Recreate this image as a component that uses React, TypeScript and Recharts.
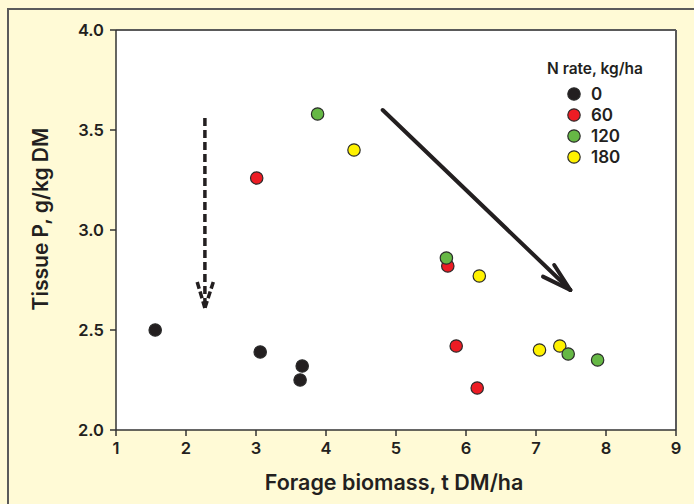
import React from "react";
import {
  ScatterChart,
  Scatter,
  XAxis,
  YAxis,
  CartesianGrid,
  ReferenceLine,
  Label,
} from "recharts";

// ---- data ----
const xTicks = [1, 2, 3, 4, 5, 6, 7, 8, 9];
const yTicks = [2.0, 2.5, 3.0, 3.5, 4.0];

const n0 = [
  { x: 1.56, y: 2.5 },
  { x: 3.06, y: 2.39 },
  { x: 3.66, y: 2.32 },
  { x: 3.63, y: 2.25 },
];
const n60 = [
  { x: 3.01, y: 3.26 },
  { x: 5.74, y: 2.82 },
  { x: 5.86, y: 2.42 },
  { x: 6.16, y: 2.21 },
];
const n120 = [
  { x: 3.88, y: 3.58 },
  { x: 5.72, y: 2.86 },
  { x: 7.46, y: 2.38 },
  { x: 7.88, y: 2.35 },
];
const n180 = [
  { x: 4.4, y: 3.4 },
  { x: 6.19, y: 2.77 },
  { x: 7.05, y: 2.4 },
  { x: 7.34, y: 2.42 },
];

const legendTitle = "N rate, kg/ha";
const legendNames = ["0", "60", "120", "180"];
const legendColors = ["#231f20", "#ed1c24", "#66b845", "#fff200"];

// annotation arrows (data coordinates)
const solidArrow = [
  { x: 4.81, y: 3.6 },
  { x: 7.49, y: 2.7 },
];
const solidHeadA = [
  { x: 7.1, y: 2.767 },
  { x: 7.49, y: 2.7 },
];
const solidHeadB = [
  { x: 7.26, y: 2.825 },
  { x: 7.49, y: 2.7 },
];
const dashArrow = [
  { x: 2.27, y: 3.56 },
  { x: 2.27, y: 2.62 },
];
const dashHeadA = [
  { x: 2.16, y: 2.74 },
  { x: 2.27, y: 2.61 },
];
const dashHeadB = [
  { x: 2.39, y: 2.74 },
  { x: 2.27, y: 2.61 },
];

const FONT = "Inter, 'Noto Sans', sans-serif";
const INK = "#231f20";

const makeDot = (fill: string) => (props: any) => (
  <circle
    cx={props.cx}
    cy={props.cy}
    r={6.2}
    fill={fill}
    stroke="#2b2b2b"
    strokeWidth={1.2}
  />
);

const LegendBox = () => (
  <div
    style={{
      position: "absolute",
      left: 530,
      top: 59,
      width: 130,
      fontFamily: FONT,
      fontWeight: 600,
      color: INK,
    }}
  >
    <div style={{ fontSize: 15.5, textAlign: "center", lineHeight: "20px", marginBottom: 4 }}>
      {legendTitle}
    </div>
    {legendNames.map((n, i) => (
      <div
        key={n}
        style={{ display: "flex", alignItems: "center", height: 21, fontSize: 17 }}
      >
        <svg width={14} height={14} style={{ marginLeft: 37, marginRight: 10 }}>
          <circle cx={7} cy={7} r={6.2} fill={legendColors[i]} stroke="#2b2b2b" strokeWidth={1.2} />
        </svg>
        <span>{n}</span>
      </div>
    ))}
  </div>
);

export default function App() {
  return (
    <div
      style={{
        position: "absolute",
        left: 0,
        top: 0,
        width: 694,
        height: 504,
        background: "#fffad6",
        overflow: "hidden",
      }}
    >
      <div
        style={{
          position: "absolute",
          left: 7,
          top: 8,
          width: 700,
          height: 520,
          borderTop: "2px solid #5a5a5a",
          borderLeft: "2px solid #5a5a5a",
        }}
      />
      <div style={{ position: "absolute", left: 0, top: 0 }}>
        <ScatterChart
          width={694}
          height={504}
          margin={{ top: 30, right: 18, bottom: 0, left: 0 }}
        >
          <CartesianGrid fill="#ffffff" horizontal={false} vertical={false} />
          <XAxis
            type="number"
            dataKey="x"
            domain={[1, 9]}
            ticks={xTicks}
            allowDataOverflow
            height={74}
            tickSize={6}
            tickMargin={6}
            stroke="#333"
            strokeWidth={1.5}
            tick={{ fill: INK, fontFamily: FONT, fontWeight: 600, fontSize: 16.5 }}
          >
            <Label
              content={(p: any) => {
                const vb = p.viewBox;
                return (
                  <text
                    x={vb.x + vb.width / 2 - 2}
                    y={vb.y + 60}
                    textAnchor="middle"
                    fill={INK}
                    style={{ fontFamily: FONT, fontWeight: 600, fontSize: 21.5 }}
                  >
                    Forage biomass, t DM/ha
                  </text>
                );
              }}
            />
          </XAxis>
          <YAxis
            type="number"
            dataKey="y"
            domain={[2, 4]}
            ticks={yTicks}
            allowDataOverflow
            width={116}
            tickSize={6}
            tickMargin={6}
            stroke="#333"
            strokeWidth={1.5}
            tickFormatter={(v: number) => v.toFixed(1)}
            tick={{ fill: INK, fontFamily: FONT, fontWeight: 600, fontSize: 16.5 }}
          >
            <Label
              content={(p: any) => {
                const vb = p.viewBox;
                const cx = vb.x + 40;
                const cy = vb.y + vb.height / 2 - 11;
                return (
                  <text
                    x={cx}
                    y={cy}
                    textAnchor="middle"
                    dominantBaseline="central"
                    transform={`rotate(-90 ${cx} ${cy})`}
                    fill={INK}
                    style={{ fontFamily: FONT, fontWeight: 600, fontSize: 21 }}
                  >
                    Tissue P, g/kg DM
                  </text>
                );
              }}
            />
          </YAxis>
          <ReferenceLine y={4} stroke="#5a5a5a" strokeWidth={2} />
          <ReferenceLine x={9} stroke="#5a5a5a" strokeWidth={2} />

          <ReferenceLine segment={dashArrow} stroke={INK} strokeWidth={3.5} strokeDasharray="8 4" ifOverflow="visible" />
          <ReferenceLine segment={dashHeadA} stroke={INK} strokeWidth={3.5} strokeDasharray="7 3" ifOverflow="visible" />
          <ReferenceLine segment={dashHeadB} stroke={INK} strokeWidth={3.5} strokeDasharray="7 3" ifOverflow="visible" />

          <ReferenceLine segment={solidArrow} stroke={INK} strokeWidth={4} strokeLinecap="round" ifOverflow="visible" />
          <ReferenceLine segment={solidHeadA} stroke={INK} strokeWidth={4} strokeLinecap="round" ifOverflow="visible" />
          <ReferenceLine segment={solidHeadB} stroke={INK} strokeWidth={4} strokeLinecap="round" ifOverflow="visible" />

          <Scatter name="0" data={n0} fill={legendColors[0]} shape={makeDot(legendColors[0])} isAnimationActive={false} />
          <Scatter name="60" data={n60} fill={legendColors[1]} shape={makeDot(legendColors[1])} isAnimationActive={false} />
          <Scatter name="180" data={n180} fill={legendColors[3]} shape={makeDot(legendColors[3])} isAnimationActive={false} />
          <Scatter name="120" data={n120} fill={legendColors[2]} shape={makeDot(legendColors[2])} isAnimationActive={false} />
        </ScatterChart>
      </div>
      <LegendBox />
    </div>
  );
}
